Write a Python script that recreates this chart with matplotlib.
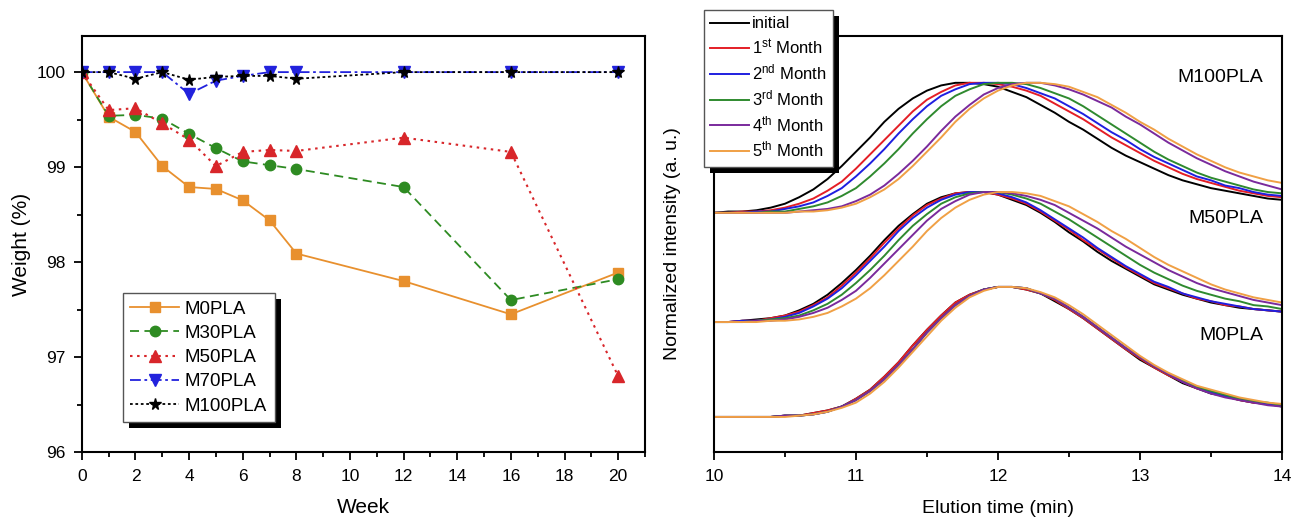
import matplotlib
matplotlib.use("Agg")
import matplotlib.pyplot as plt
from matplotlib.patches import Rectangle
from matplotlib.transforms import IdentityTransform
from matplotlib.ticker import MultipleLocator

plt.rcParams['font.family'] = ['Liberation Sans', 'DejaVu Sans']
plt.rcParams['mathtext.fontset'] = 'custom'
plt.rcParams['mathtext.rm'] = 'Liberation Sans'
plt.rcParams['mathtext.it'] = 'Liberation Sans:italic'

# ---- left panel: weight loss ----
weeks = [0, 1, 2, 3, 4, 5, 6, 7, 8, 12, 16, 20]
m0pla = [100, 99.53, 99.37, 99.01, 98.79, 98.77, 98.65, 98.44, 98.09, 97.80, 97.45, 97.89]
m30pla = [100, 99.54, 99.55, 99.51, 99.35, 99.20, 99.06, 99.02, 98.98, 98.79, 97.60, 97.82]
m50pla = [100, 99.60, 99.62, 99.46, 99.29, 99.01, 99.16, 99.18, 99.17, 99.31, 99.16, 96.80]
m70pla = [100, 100.0, 100.0, 100.0, 99.77, 99.91, 99.96, 100.0, 100.0, 100.0, 100.0, 100.0]
m100pla = [100, 100.0, 99.93, 100.0, 99.92, 99.95, 99.96, 99.96, 99.93, 100.0, 100.0, 100.0]

# ---- right panel: GPC traces (normalized, read every 0.1 min) ----
elution = [10.0, 10.1, 10.2, 10.3, 10.4, 10.5, 10.6, 10.7, 10.8, 10.9,
           11.0, 11.1, 11.2, 11.3, 11.4, 11.5, 11.6, 11.7, 11.8, 11.9,
           12.0, 12.1, 12.2, 12.3, 12.4, 12.5, 12.6, 12.7, 12.8, 12.9,
           13.0, 13.1, 13.2, 13.3, 13.4, 13.5, 13.6, 13.7, 13.8, 13.9, 14.0]

m100_initial = [0.00, 0.01, 0.01, 0.02, 0.04, 0.07, 0.12, 0.18, 0.26, 0.36, 0.47, 0.58, 0.70, 0.80, 0.88, 0.94, 0.98, 1.00,
                1.00, 0.99, 0.97, 0.93, 0.89, 0.83, 0.77, 0.70, 0.64, 0.57, 0.50, 0.44, 0.39, 0.34, 0.29, 0.25, 0.22, 0.19, 0.17, 0.15, 0.13, 0.11, 0.10]
m100_1 = [0.00, 0.00, 0.01, 0.01, 0.02, 0.04, 0.07, 0.11, 0.17, 0.24, 0.34, 0.45, 0.56, 0.67, 0.78, 0.87, 0.93, 0.98,
          1.00, 1.00, 0.99, 0.97, 0.94, 0.90, 0.84, 0.78, 0.72, 0.65, 0.58, 0.52, 0.46, 0.40, 0.35, 0.30, 0.26, 0.23, 0.20, 0.17, 0.15, 0.13, 0.12]
m100_2 = [0.00, 0.00, 0.00, 0.01, 0.01, 0.03, 0.05, 0.08, 0.13, 0.19, 0.28, 0.38, 0.49, 0.61, 0.72, 0.82, 0.90, 0.95,
          0.99, 1.00, 1.00, 0.99, 0.96, 0.92, 0.88, 0.82, 0.76, 0.69, 0.62, 0.56, 0.49, 0.43, 0.38, 0.33, 0.28, 0.25, 0.21, 0.19, 0.16, 0.14, 0.13]
m100_3 = [0.00, 0.00, 0.00, 0.00, 0.01, 0.01, 0.03, 0.05, 0.08, 0.13, 0.19, 0.28, 0.38, 0.49, 0.61, 0.72, 0.82, 0.90,
          0.95, 0.99, 1.00, 1.00, 0.99, 0.96, 0.92, 0.88, 0.82, 0.75, 0.68, 0.61, 0.54, 0.47, 0.41, 0.36, 0.31, 0.27, 0.24, 0.21, 0.18, 0.16, 0.15]
m100_4 = [0.00, 0.00, 0.00, 0.00, 0.00, 0.00, 0.01, 0.02, 0.03, 0.05, 0.09, 0.14, 0.21, 0.30, 0.40, 0.51, 0.63, 0.74,
          0.83, 0.91, 0.96, 0.99, 1.00, 1.00, 0.98, 0.95, 0.91, 0.86, 0.81, 0.74, 0.68, 0.61, 0.54, 0.48, 0.42, 0.37, 0.32, 0.28, 0.24, 0.21, 0.18]
m100_5 = [0.00, 0.00, 0.00, 0.00, 0.00, 0.00, 0.01, 0.01, 0.02, 0.04, 0.07, 0.12, 0.18, 0.26, 0.36, 0.47, 0.58, 0.70,
          0.80, 0.88, 0.94, 0.98, 1.00, 1.00, 0.99, 0.97, 0.93, 0.89, 0.83, 0.77, 0.70, 0.64, 0.57, 0.51, 0.45, 0.40, 0.35, 0.31, 0.28, 0.25, 0.23]

m50_initial = [0.00, 0.00, 0.01, 0.02, 0.03, 0.05, 0.09, 0.14, 0.21, 0.30, 0.40, 0.51, 0.63, 0.74, 0.83, 0.91, 0.96, 0.99,
               1.00, 1.00, 0.98, 0.94, 0.90, 0.84, 0.77, 0.69, 0.62, 0.54, 0.47, 0.41, 0.35, 0.29, 0.25, 0.21, 0.18, 0.15, 0.13, 0.11, 0.10, 0.09, 0.08]
m50_1 = [0.00, 0.00, 0.01, 0.01, 0.03, 0.05, 0.08, 0.13, 0.19, 0.28, 0.38, 0.49, 0.61, 0.72, 0.82, 0.90, 0.95, 0.99,
         1.00, 1.00, 0.98, 0.95, 0.91, 0.85, 0.78, 0.71, 0.63, 0.56, 0.49, 0.42, 0.36, 0.30, 0.26, 0.22, 0.18, 0.16, 0.13, 0.12, 0.10, 0.09, 0.08]
m50_2 = [0.00, 0.00, 0.01, 0.01, 0.02, 0.04, 0.07, 0.12, 0.18, 0.26, 0.36, 0.47, 0.58, 0.70, 0.80, 0.88, 0.94, 0.98,
         1.00, 1.00, 0.99, 0.96, 0.92, 0.86, 0.79, 0.72, 0.65, 0.57, 0.50, 0.43, 0.37, 0.31, 0.27, 0.22, 0.19, 0.16, 0.14, 0.12, 0.10, 0.09, 0.08]
m50_3 = [0.00, 0.00, 0.00, 0.01, 0.02, 0.03, 0.05, 0.09, 0.14, 0.21, 0.30, 0.40, 0.51, 0.63, 0.74, 0.83, 0.91, 0.96,
         0.99, 1.00, 1.00, 0.98, 0.95, 0.91, 0.85, 0.79, 0.72, 0.65, 0.58, 0.51, 0.44, 0.38, 0.33, 0.28, 0.24, 0.21, 0.18, 0.16, 0.13, 0.12, 0.10]
m50_4 = [0.00, 0.00, 0.00, 0.01, 0.01, 0.02, 0.04, 0.07, 0.11, 0.17, 0.24, 0.34, 0.45, 0.56, 0.67, 0.78, 0.87, 0.93,
         0.98, 1.00, 1.00, 0.99, 0.97, 0.94, 0.90, 0.84, 0.78, 0.72, 0.65, 0.58, 0.52, 0.46, 0.40, 0.35, 0.30, 0.26, 0.23, 0.20, 0.17, 0.15, 0.13]
m50_5 = [0.00, 0.00, 0.00, 0.00, 0.01, 0.01, 0.02, 0.04, 0.07, 0.12, 0.18, 0.26, 0.36, 0.47, 0.58, 0.70, 0.80, 0.88,
         0.94, 0.98, 1.00, 1.00, 0.99, 0.97, 0.93, 0.89, 0.83, 0.77, 0.70, 0.64, 0.57, 0.50, 0.44, 0.39, 0.34, 0.29, 0.25, 0.22, 0.19, 0.17, 0.15]

m0_initial = [0.00, 0.00, 0.00, 0.00, 0.00, 0.01, 0.01, 0.03, 0.05, 0.08, 0.14, 0.21, 0.31, 0.42, 0.55, 0.67, 0.78, 0.88,
              0.94, 0.98, 1.00, 1.00, 0.98, 0.95, 0.89, 0.83, 0.76, 0.68, 0.60, 0.52, 0.44, 0.38, 0.32, 0.26, 0.22, 0.18, 0.16, 0.13, 0.11, 0.10, 0.08]
m0_1 = [0.00, 0.00, 0.00, 0.00, 0.00, 0.01, 0.01, 0.03, 0.05, 0.08, 0.14, 0.21, 0.31, 0.42, 0.55, 0.67, 0.78, 0.88,
        0.94, 0.98, 1.00, 1.00, 0.98, 0.95, 0.90, 0.83, 0.76, 0.68, 0.60, 0.52, 0.45, 0.38, 0.32, 0.27, 0.22, 0.19, 0.16, 0.13, 0.11, 0.10, 0.09]
m0_2 = [0.00, 0.00, 0.00, 0.00, 0.00, 0.01, 0.01, 0.02, 0.04, 0.08, 0.13, 0.20, 0.29, 0.40, 0.52, 0.65, 0.76, 0.86,
        0.93, 0.98, 1.00, 1.00, 0.99, 0.95, 0.91, 0.84, 0.77, 0.69, 0.61, 0.53, 0.46, 0.39, 0.33, 0.27, 0.23, 0.19, 0.16, 0.14, 0.12, 0.10, 0.09]
m0_3 = [0.00, 0.00, 0.00, 0.00, 0.00, 0.01, 0.01, 0.02, 0.04, 0.08, 0.13, 0.20, 0.29, 0.40, 0.52, 0.65, 0.76, 0.86,
        0.93, 0.98, 1.00, 1.00, 0.99, 0.95, 0.91, 0.84, 0.77, 0.69, 0.61, 0.53, 0.46, 0.39, 0.33, 0.28, 0.23, 0.20, 0.17, 0.14, 0.12, 0.11, 0.09]
m0_4 = [0.00, 0.00, 0.00, 0.00, 0.00, 0.01, 0.01, 0.02, 0.04, 0.08, 0.13, 0.20, 0.29, 0.40, 0.52, 0.65, 0.76, 0.86,
        0.93, 0.98, 1.00, 1.00, 0.99, 0.95, 0.91, 0.84, 0.77, 0.69, 0.61, 0.53, 0.46, 0.39, 0.33, 0.27, 0.22, 0.18, 0.15, 0.13, 0.11, 0.09, 0.08]
m0_5 = [0.00, 0.00, 0.00, 0.00, 0.00, 0.00, 0.01, 0.02, 0.04, 0.07, 0.11, 0.18, 0.27, 0.38, 0.50, 0.62, 0.74, 0.84,
        0.92, 0.97, 1.00, 1.00, 0.99, 0.96, 0.92, 0.86, 0.79, 0.71, 0.63, 0.55, 0.47, 0.40, 0.34, 0.29, 0.24, 0.21, 0.18, 0.15, 0.13, 0.11, 0.10]

month_labels = ['initial', r'1$^{\rm st}$ Month', r'2$^{\rm nd}$ Month', r'3$^{\rm rd}$ Month',
                r'4$^{\rm th}$ Month', r'5$^{\rm th}$ Month']
month_colors = ['black', '#e41e26', '#1f1fe0', '#2f8a2f', '#7a2a9c', '#f0a045']

# name, traces, stacking offset, label height above the offset
groups = [('M100PLA', [m100_initial, m100_1, m100_2, m100_3, m100_4, m100_5], 1.84, 1.04),
          ('M50PLA', [m50_initial, m50_1, m50_2, m50_3, m50_4, m50_5], 1.0, 0.80),
          ('M0PLA', [m0_initial, m0_1, m0_2, m0_3, m0_4, m0_5], 0.27, 0.63)]

fig = plt.figure(figsize=(12.99, 5.22), dpi=100)
ax1 = fig.add_axes([0.063, 0.134, 0.4335, 0.797])
ax2 = fig.add_axes([0.5496, 0.134, 0.4373, 0.797])

for ax in (ax1, ax2):
    for s in ax.spines.values():
        s.set_linewidth(1.5)
    ax.tick_params(which='both', direction='out', width=1.3, labelsize=12.5, pad=6)
    ax.tick_params(which='major', length=6)
    ax.tick_params(which='minor', length=3.5)

# left
ax1.plot(weeks, m0pla, color='#e8902e', linestyle='-', linewidth=1.3, marker='s', markersize=7, label='M0PLA')
ax1.plot(weeks, m30pla, color='#2e8b22', linestyle=(0, (5, 3)), linewidth=1.3, marker='o', markersize=7.5, label='M30PLA')
ax1.plot(weeks, m50pla, color='#d8262a', linestyle=(0, (1.2, 2.2)), linewidth=1.5, marker='^', markersize=8, label='M50PLA')
ax1.plot(weeks, m70pla, color='#2222dd', linestyle=(0, (6, 2, 1.5, 2)), linewidth=1.3, marker='v', markersize=8, label='M70PLA')
ax1.plot(weeks, m100pla, color='black', linestyle=(0, (1.5, 1.5)), linewidth=1.3, marker='*', markersize=8.5, label='M100PLA')
ax1.set_xlim(0, 21)
ax1.set_ylim(96, 100.38)
ax1.xaxis.set_major_locator(MultipleLocator(2))
ax1.xaxis.set_minor_locator(MultipleLocator(1))
ax1.yaxis.set_major_locator(MultipleLocator(1))
ax1.yaxis.set_minor_locator(MultipleLocator(0.5))
ax1.set_xlabel('Week', fontsize=15, labelpad=10)
ax1.set_ylabel('Weight (%)', fontsize=15, labelpad=4)
leg1 = ax1.legend(loc='lower left', bbox_to_anchor=(0.073, 0.072), borderaxespad=0, fontsize=13.5,
                  fancybox=False, framealpha=1, edgecolor='#555555', handlelength=2.6,
                  labelspacing=0.38, borderpad=0.4, handletextpad=0.3)
leg1.get_frame().set_linewidth(1.0)

# right
for name, curves, offset, label_h in groups:
    for k in range(len(curves)):
        ax2.plot(elution, [v + offset for v in curves[k]], color=month_colors[k], linewidth=1.4,
                 label=month_labels[k] if name == 'M100PLA' else None)
    ax2.text(13.87, offset + label_h, name, ha='right', va='center', fontsize=14)
ax2.set_xlim(10, 14)
ax2.set_ylim(0, 3.2)
ax2.set_yticks([])
ax2.xaxis.set_major_locator(MultipleLocator(1))
ax2.xaxis.set_minor_locator(MultipleLocator(0.5))
ax2.set_xlabel('Elution time (min)', fontsize=14, labelpad=12)
ax2.set_ylabel('Normalized intensity (a. u.)', fontsize=14, labelpad=24)
leg2 = ax2.legend(loc='upper left', bbox_to_anchor=(-0.018, 1.063), borderaxespad=0, fontsize=12,
                  fancybox=False, framealpha=1, edgecolor='#555555', handlelength=2.3,
                  labelspacing=0.35, borderpad=0.4, handletextpad=0.2)
leg2.get_frame().set_linewidth(1.0)

# black drop shadows behind the legends
fig.canvas.draw()
for ax, leg in ((ax1, leg1), (ax2, leg2)):
    bb = leg.get_window_extent()
    ax.add_artist(Rectangle((bb.x0 + 6, bb.y0 - 6), bb.width, bb.height, transform=IdentityTransform(),
                            facecolor='black', edgecolor='none', zorder=4.9, clip_on=False))

fig.savefig('out.png', dpi=100)
